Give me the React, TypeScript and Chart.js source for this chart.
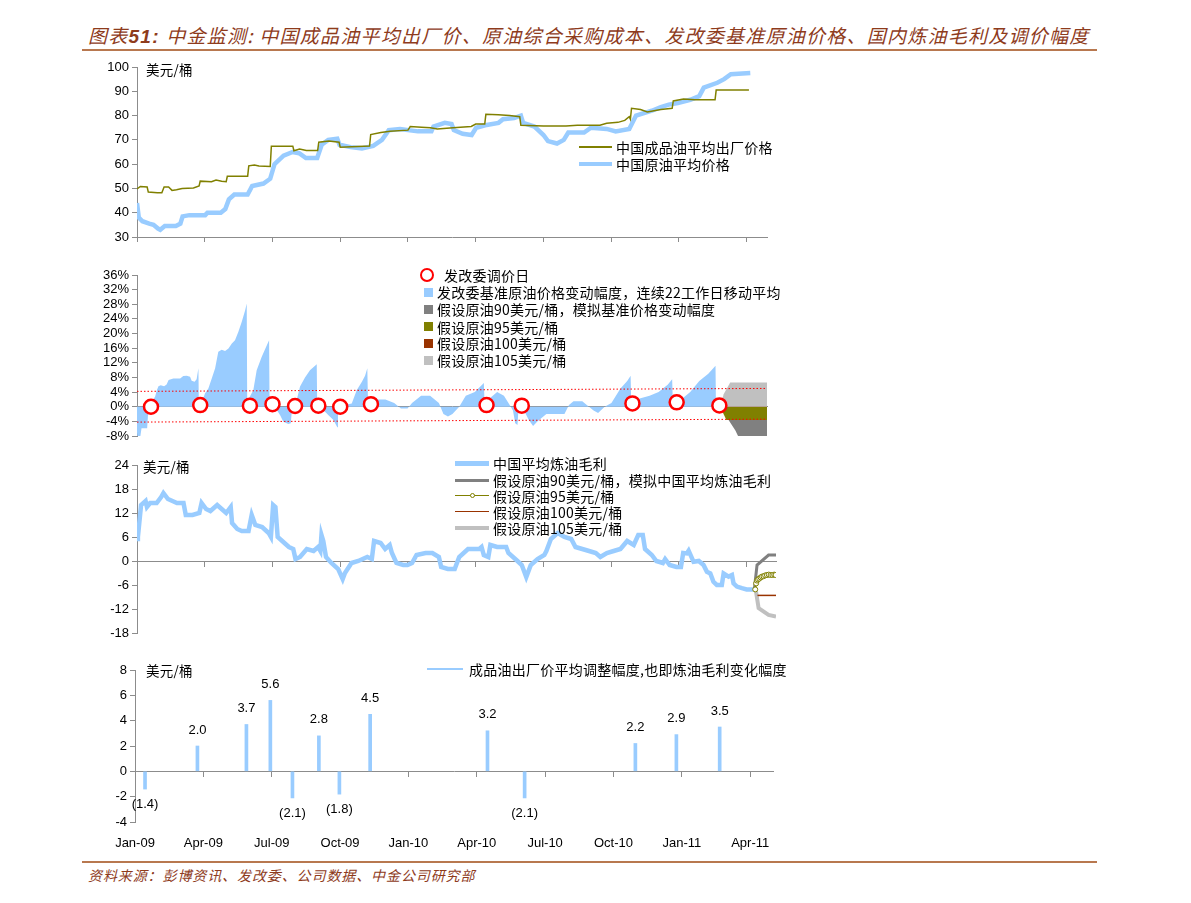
import React, { useEffect, useRef } from 'react';
import { Chart, registerables } from 'chart.js';

Chart.register(...registerables);

const CJK = '"Noto Sans CJK SC", "Noto Sans", sans-serif';
const LATIN = '"Liberation Sans", Arial, sans-serif';
const GRAY = '#8c8c8c';
const BLUE = '#99CCFF';
const OLIVE = '#808000';
const DARKGRAY = '#808080';
const LIGHTGRAY = '#C0C0C0';
const DARKRED = '#993300';
const BROWN = '#8E3B1C';

// ---------- shared x axis: months since Jan-09 ----------
const quarterTicks = [0, 3, 6, 9, 12, 15, 18, 21, 24, 27];
const quarterLabels = ['Jan-09', 'Apr-09', 'Jul-09', 'Oct-09', 'Jan-10', 'Apr-10', 'Jul-10', 'Oct-10', 'Jan-11', 'Apr-11'];

const titleText = '中金监测: 中国成品油平均出厂价、原油综合采购成本、发改委基准原油价格、国内炼油毛利及调价幅度';
const footerText = '资料来源：彭博资讯、发改委、公司数据、中金公司研究部';
const unitLabel = '美元/桶';

// ---------- Panel 1 ----------
const panel1Legend = ['中国成品油平均出厂价格', '中国原油平均价格'];
const panel1YTicks = [30, 40, 50, 60, 70, 80, 90, 100];
const productPrice: [number, number][] = [
  [0, 49.8], [0.15, 50.8], [0.45, 50.6], [0.5, 48.5], [0.9, 48.2], [1.1, 48.2], [1.2, 50.6], [1.4, 50.6],
  [1.55, 49.2], [1.75, 49.5], [2.0, 50.0], [2.5, 50.2], [2.75, 51.0], [2.8, 53.0], [3.3, 52.8], [3.5, 53.5],
  [3.75, 53.0], [3.95, 52.8], [4.0, 55.0], [4.9, 55.0], [4.95, 59.3], [5.2, 59.6], [5.4, 59.2], [5.9, 59.0],
  [5.95, 67.4], [6.9, 67.4], [6.95, 65.5], [7.2, 66.2], [7.5, 65.6], [8.0, 65.6], [8.05, 69.0], [8.5, 69.5],
  [8.95, 69.0], [9.0, 67.0], [10.3, 67.5], [10.35, 72.2], [10.8, 73.0], [11.2, 73.5], [12.0, 74.0], [12.1, 75.5],
  [12.6, 75.2], [13.0, 75.0], [13.3, 74.5], [14.0, 75.0], [14.8, 75.5], [15.0, 76.5], [15.4, 76.5], [15.45, 80.5],
  [16.0, 80.3], [16.5, 80.0], [16.95, 79.5], [17.0, 76.0], [18.0, 75.7], [19.0, 75.7], [19.5, 76.0], [20.5, 76.0],
  [20.8, 76.8], [21.3, 77.2], [21.6, 78.0], [21.8, 79.5], [21.85, 78.5], [21.9, 83.0], [22.3, 82.5], [22.6, 81.5],
  [23.2, 82.5], [23.7, 83.0], [23.75, 86.0], [24.2, 86.8], [24.7, 86.5], [25.6, 86.5], [25.65, 90.5], [27.1, 90.5],
];
const crudePrice: [number, number][] = [
  [0, 44], [0.08, 38], [0.24, 36.5], [0.54, 35.5], [0.73, 35], [0.93, 33.5], [1.03, 33], [1.23, 34.5],
  [1.72, 34.5], [1.92, 35.5], [2.02, 38.5], [2.32, 39], [3.02, 39], [3.12, 40], [3.71, 40], [3.91, 41.5],
  [4.07, 45.5], [4.31, 47.5], [4.9, 47.5], [5.1, 51], [5.6, 52], [5.9, 54], [6.09, 60], [6.49, 63.5],
  [6.89, 65], [7.18, 64.5], [7.48, 62.5], [7.98, 62.5], [8.18, 68], [8.47, 70], [8.87, 70.5], [8.97, 68],
  [9.46, 67], [9.96, 66.5], [10.46, 67.5], [10.85, 70], [11.15, 74], [11.65, 74.5], [12.44, 73.5], [13.04, 73.5],
  [13.13, 75.5], [13.63, 77], [13.93, 76.5], [14.03, 74], [14.42, 72.5], [14.82, 72], [15.02, 75], [15.42, 76],
  [16.01, 77], [16.21, 78.5], [16.7, 79], [17.0, 80], [17.1, 77], [17.6, 75.5], [18.0, 72], [18.2, 69.5],
  [18.6, 68.5], [18.9, 70], [19.1, 73], [19.8, 73], [20.1, 75], [20.8, 74.5], [21.2, 73.5], [21.8, 74.5],
  [22.1, 80], [22.8, 82], [23.2, 83.5], [23.55, 84.5], [23.95, 85.2], [24.5, 86.5], [24.9, 88], [25.1, 91.5],
  [25.7, 93.5], [26.0, 95], [26.3, 97], [27.16, 97.5],
];

// ---------- Panel 2 ----------
const panel2Legend = [
  '发改委调价日',
  '发改委基准原油价格变动幅度，连续22工作日移动平均',
  '假设原油90美元/桶，模拟基准价格变动幅度',
  '假设原油95美元/桶',
  '假设原油100美元/桶',
  '假设原油105美元/桶',
];
const panel2YTicks = [-8, -4, 0, 4, 8, 12, 16, 20, 24, 28, 32, 36];
const adjustDayMarks: [number, number][] = [
  [0.62, 0], [2.8, 0.45], [5.0, 0.3], [6.0, 0.7], [7.0, 0.2], [8.03, 0.3], [9.0, 0],
  [10.36, 0.7], [15.48, 0.45], [17.04, 0.3], [21.94, 0.9], [23.9, 1.2], [25.79, 0.35],
];
const benchChange: [number, number][] = [
  [0.0, -7.0], [0.02, -8.2], [0.15, -8.0], [0.2, -5.9], [0.45, -5.9], [0.5, -1.0], [0.6, 0.3], [0.7, 1.8],
  [0.8, 2.7], [0.88, 4.5], [0.95, 5.6], [1.05, 5.9], [1.2, 5.6], [1.31, 6.1], [1.4, 7.3], [1.61, 7.7],
  [1.91, 7.7], [2.05, 8.4], [2.2, 8.5], [2.35, 8.2], [2.42, 7.1], [2.55, 6.8], [2.64, 7.5], [2.72, 10.5],
  [2.74, 0.2], [2.85, 0.8], [3.01, 3.6], [3.16, 5.0], [3.31, 7.7], [3.46, 10.5], [3.6, 15.0], [3.75, 15.6],
  [3.9, 15.2], [4.05, 15.9], [4.2, 17.3], [4.34, 18.2], [4.49, 20.5], [4.64, 23.2], [4.79, 26.4], [4.86, 28.2],
  [4.88, 1.0], [4.93, 2.0], [5.15, 4.5], [5.3, 10.0], [5.52, 13.6], [5.75, 16.8], [5.85, 18.2], [5.87, 0.3],
  [5.97, 0.0], [6.19, -0.9], [6.34, -2.3], [6.48, -4.1], [6.7, -4.7], [6.81, -4.5], [6.86, -0.9], [7.0, 0.2],
  [7.07, 1.8], [7.22, 5.5], [7.44, 8.0], [7.66, 10.0], [7.96, 11.6], [7.98, 0.0], [8.25, -0.9], [8.48, -2.3],
  [8.7, -3.6], [8.87, -5.6], [8.9, 0.0], [9.22, 0.5], [9.51, 0.9], [9.73, 4.5], [9.96, 6.8], [10.1, 8.5],
  [10.2, 10.5], [10.23, 1.0], [10.5, 2.0], [11.0, 2.0], [11.39, 1.0], [11.69, -0.5], [11.98, -0.5], [12.18, 1.0],
  [12.58, 3.0], [12.98, 3.0], [13.37, 1.0], [13.57, -2.0], [13.77, -2.7], [13.97, -2.0], [14.27, 0.0], [14.56, 3.0],
  [14.96, 4.0], [15.36, 6.5], [15.39, 1.5], [15.56, 2.0], [15.95, 4.0], [16.25, 3.0], [16.45, 1.0], [16.65, -1.0],
  [16.75, -4.5], [16.85, -5.0], [16.9, 0.0], [17.14, -1.0], [17.34, -3.5], [17.54, -5.3], [17.74, -4.0], [18.13, -2.0],
  [18.53, -2.0], [18.93, -2.0], [19.13, 0.5], [19.33, 1.5], [19.72, 1.5], [19.92, 0.5], [20.22, -1.0], [20.42, -1.7],
  [20.71, 0.0], [21.01, 1.0], [21.41, 5.0], [21.71, 7.0], [21.86, 8.5], [21.89, 0.0], [22.1, 2.0], [22.7, 3.0],
  [23.1, 4.0], [23.5, 6.0], [23.7, 7.5], [23.73, 1.0], [24.1, 2.0], [24.5, 4.0], [24.9, 7.0], [25.3, 9.0],
  [25.62, 11.2], [25.64, 0.0],
];
const sim90Change: [number, number][] = [[25.83, 0], [26.27, -4.3], [26.5, -6.5], [26.64, -8.3], [27.9, -8.3]];
const sim95Change: [number, number][] = [[25.83, 0], [26.1, -3.6], [27.9, -3.6]];
const sim100Change: [number, number][] = [[25.83, 0], [26.1, 1.4], [27.9, 1.4]];
const sim105Change: [number, number][] = [[25.83, 0], [25.98, 3.4], [26.27, 6.6], [27.9, 6.6]];
const bandUpper: [number, number][] = [[0, 4.2], [27.9, 5.0]];
const bandLower: [number, number][] = [[0, -4.2], [27.9, -3.4]];

// ---------- Panel 3 ----------
const panel3Legend = [
  '中国平均炼油毛利',
  '假设原油90美元/桶，模拟中国平均炼油毛利',
  '假设原油95美元/桶',
  '假设原油100美元/桶',
  '假设原油105美元/桶',
];
const panel3YTicks = [-18, -12, -6, 0, 6, 12, 18, 24];
const refiningMargin: [number, number][] = [
  [0, 5.5], [0.04, 6], [0.18, 14], [0.38, 15], [0.44, 13.5], [0.58, 14.5], [0.87, 14.5], [1.07, 16], [1.17, 17],
  [1.37, 15.5], [1.57, 15], [1.77, 14.5], [2.06, 14.5], [2.16, 11.5], [2.46, 11.5], [2.76, 12], [2.86, 14.5],
  [3.06, 13], [3.25, 12.5], [3.55, 14], [3.75, 13], [3.95, 12], [4.15, 13.5], [4.21, 9.5], [4.44, 8], [4.64, 7.5],
  [4.94, 7.5], [5.08, 11.5], [5.24, 9], [5.54, 8.5], [5.83, 7], [5.93, 6], [6.03, 14], [6.13, 13.5], [6.23, 6],
  [6.43, 5], [6.73, 3.5], [6.92, 3], [7.02, 0.5], [7.22, 1], [7.52, 3], [7.82, 2.5], [8.02, 3.5], [8.12, 2.5],
  [8.17, 6.5], [8.25, 5], [8.37, 1], [8.61, -0.5], [8.91, -2], [9.11, -4.5], [9.21, -3], [9.5, -0.5], [9.8, 0],
  [10.2, 1], [10.4, 0.5], [10.5, 5], [10.79, 4.5], [10.99, 3], [11.19, 4], [11.29, 2], [11.49, -0.5], [11.79, -1],
  [11.98, -1], [12.18, -0.5], [12.38, 1.5], [12.78, 2], [13.08, 2], [13.37, 1], [13.47, -1.5], [13.77, -2],
  [14.07, -2], [14.27, 1], [14.66, 3], [15.16, 3], [15.26, 3.5], [15.36, 1.5], [15.56, 1], [15.65, 4], [15.95, 3.5],
  [16.35, 3.5], [16.45, 2], [16.85, 0], [17.04, -1], [17.24, -4], [17.44, -1], [17.74, 0.5], [18.04, 1.5],
  [18.13, 2.5], [18.33, 5.5], [18.63, 7], [18.93, 6], [19.23, 5.5], [19.42, 3.5], [19.72, 3], [20.02, 2.5],
  [20.32, 2], [20.52, 1], [20.81, 2], [21.11, 2.5], [21.41, 3], [21.71, 5], [22.0, 4], [22.2, 6.5], [22.4, 6.5],
  [22.5, 3], [22.8, 1.5], [23.0, 0], [23.29, -0.5], [23.39, 0.5], [23.59, -1], [23.89, -1.5], [24.09, -1.5],
  [24.19, 2], [24.35, 1.9], [24.43, 2.6], [24.65, -0.2], [24.88, 0], [25.09, -1], [25.24, -2.7], [25.39, -3.1],
  [25.53, -5.2], [25.68, -6], [25.9, -6], [25.98, -3.1], [26.2, -3.9], [26.35, -3.5], [26.42, -5.6], [26.57, -6.4],
  [26.79, -6.8], [27.0, -7.1], [27.34, -7.1],
];
const sim90Margin: [number, number][] = [[27.34, -7.1], [27.46, -1.0], [27.97, 1.5], [28.3, 1.5]];
const sim95Margin: [number, number][] = [
  [27.38, -7.1], [27.42, -5.6], [27.46, -4.9], [27.5, -4.6], [27.56, -4.4], [27.62, -4.1], [27.68, -3.9],
  [27.75, -3.8], [27.82, -3.6], [27.9, -3.5], [27.98, -3.4], [28.06, -3.5], [28.14, -3.5], [28.22, -3.4], [28.28, -3.5],
];
const sim100Margin: [number, number][] = [[27.48, -8.6], [28.3, -8.6]];
const sim105Margin: [number, number][] = [[27.4, -7.1], [27.53, -11.8], [27.97, -13.5], [28.3, -13.9]];

// ---------- Panel 4 ----------
const panel4Legend = '成品油出厂价平均调整幅度,也即炼油毛利变化幅度';
const panel4YTicks = [-4, -2, 0, 2, 4, 6, 8];
const adjustBarDates = [0.44, 2.74, 4.89, 5.94, 6.91, 8.07, 8.97, 10.32, 15.47, 17.1, 21.96, 23.76, 25.66];
const adjustBarValues = [-1.4, 2.0, 3.7, 5.6, -2.1, 2.8, -1.8, 4.5, 3.2, -2.1, 2.2, 2.9, 3.5];

// ---------- helpers ----------
const toPts = (a: [number, number][]) => a.map(([x, y]) => ({ x, y }));
const setTicks = (vals: number[]) => (scale: any) => {
  scale.ticks = vals.map((v) => ({ value: v }));
};
const baseOptions = {
  animation: false,
  responsive: false,
  maintainAspectRatio: false,
  events: [] as any[],
  plugins: { legend: { display: false }, tooltip: { enabled: false } },
};
function yAxis(min: number, max: number, ticks: number[], width: number, suffix = '') {
  return {
    min,
    max,
    afterBuildTicks: setTicks(ticks),
    ticks: {
      color: '#000',
      font: { family: LATIN, size: 13 },
      padding: 3,
      autoSkip: false,
      callback: (v: any) => `${v}${suffix}`,
    },
    grid: { display: true, drawOnChartArea: false, drawTicks: true, tickLength: 5, color: GRAY },
    border: { display: true, color: GRAY },
    afterFit: (s: any) => {
      s.width = width;
    },
  };
}
function xAxis(max: number, extra: any) {
  return {
    type: 'linear',
    min: 0,
    max,
    offset: false,
    afterBuildTicks: setTicks(quarterTicks),
    ticks: { display: false, autoSkip: false },
    grid: { display: true, drawOnChartArea: false, drawTicks: true, tickLength: 5, color: GRAY, offset: false },
    border: { display: true, color: GRAY },
    ...extra,
  };
}

const W = 1191;

const makePanel1 = () => ({
  type: 'line',
  data: {
    datasets: [
      { label: panel1Legend[0], data: toPts(productPrice), borderColor: OLIVE, borderWidth: 1.5, pointRadius: 0, tension: 0 },
      { label: panel1Legend[1], data: toPts(crudePrice), borderColor: BLUE, borderWidth: 4.5, pointRadius: 0, tension: 0 },
    ],
  },
  options: {
    ...baseOptions,
    layout: { padding: { top: 12, right: W - 767, bottom: 0, left: 0 } },
    scales: {
      x: xAxis(27.9, { afterFit: (s: any) => { s.height = 18; } }),
      y: yAxis(30, 100, panel1YTicks, 137),
    },
  },
});

const makePanel2 = () => ({
  type: 'line',
  data: {
    datasets: [
      {
        label: panel2Legend[0], data: toPts(adjustDayMarks), showLine: false, pointRadius: 7, pointBorderWidth: 2.5,
        pointBorderColor: '#FF0000', pointBackgroundColor: '#FFFFFF',
      },
      { label: 'band+', data: toPts(bandUpper), borderColor: '#FF0000', borderWidth: 1, borderDash: [1.5, 2], pointRadius: 0 },
      { label: 'band-', data: toPts(bandLower), borderColor: '#FF0000', borderWidth: 1, borderDash: [1.5, 2], pointRadius: 0 },
      { label: panel2Legend[1], data: toPts(benchChange), borderWidth: 0, pointRadius: 0, fill: 'origin', backgroundColor: BLUE },
      { label: panel2Legend[5], data: toPts(sim105Change), borderWidth: 0, pointRadius: 0, fill: 'origin', backgroundColor: LIGHTGRAY },
      { label: panel2Legend[4], data: toPts(sim100Change), borderWidth: 0, pointRadius: 0, fill: 'origin', backgroundColor: DARKRED },
      { label: panel2Legend[3], data: toPts(sim95Change), borderWidth: 0, pointRadius: 0, fill: 'origin', backgroundColor: OLIVE },
      { label: panel2Legend[2], data: toPts(sim90Change), borderWidth: 0, pointRadius: 0, fill: 'origin', backgroundColor: DARKGRAY },
    ],
  },
  options: {
    ...baseOptions,
    layout: { padding: { top: 17, right: W - 767, bottom: 22, left: 0 } },
    scales: {
      x: xAxis(27.9, { position: { y: 0 }, grid: { display: false } }),
      y: yAxis(-8, 36, panel2YTicks, 137, '%'),
    },
  },
});

const makePanel3 = () => ({
  type: 'line',
  data: {
    datasets: [
      {
        label: panel3Legend[2], data: toPts(sim95Margin), borderColor: OLIVE, borderWidth: 1.5, pointRadius: 2.5,
        pointBorderWidth: 1, pointBorderColor: OLIVE, pointBackgroundColor: '#FFFFFF',
      },
      { label: panel3Legend[3], data: toPts(sim100Margin), borderColor: DARKRED, borderWidth: 1.5, pointRadius: 0 },
      { label: panel3Legend[1], data: toPts(sim90Margin), borderColor: DARKGRAY, borderWidth: 3, pointRadius: 0 },
      { label: panel3Legend[4], data: toPts(sim105Margin), borderColor: LIGHTGRAY, borderWidth: 4, pointRadius: 0 },
      { label: panel3Legend[0], data: toPts(refiningMargin), borderColor: BLUE, borderWidth: 4.5, pointRadius: 0 },
    ],
  },
  options: {
    ...baseOptions,
    layout: { padding: { top: 15, right: W - 776, bottom: 17, left: 0 } },
    scales: {
      x: xAxis(28.3, { position: { y: 0 } }),
      y: yAxis(-18, 24, panel3YTicks, 137),
    },
  },
});

const barLabelPlugin = {
  id: 'barLabels',
  afterDatasetsDraw(chart: any) {
    const meta = chart.getDatasetMeta(0);
    const ctx = chart.ctx;
    ctx.save();
    ctx.font = `13px ${LATIN}`;
    ctx.fillStyle = '#000';
    ctx.textAlign = 'center';
    ctx.textBaseline = 'middle';
    meta.data.forEach((el: any, i: number) => {
      const v = adjustBarValues[i];
      const txt = v >= 0 ? v.toFixed(1) : `(${Math.abs(v).toFixed(1)})`;
      ctx.fillText(txt, el.x, v >= 0 ? el.y - 16 : el.y + 15);
    });
    ctx.restore();
  },
};

const makePanel4 = () => ({
  type: 'bar',
  data: {
    datasets: [
      {
        label: panel4Legend,
        data: adjustBarDates.map((x, i) => ({ x, y: adjustBarValues[i] })),
        backgroundColor: BLUE,
        borderWidth: 0,
        barThickness: 3,
        xAxisID: 'x',
        yAxisID: 'y',
      },
    ],
  },
  plugins: [barLabelPlugin],
  options: {
    ...baseOptions,
    layout: { padding: { top: 15, right: W - 773, bottom: 0, left: 0 } },
    scales: {
      x: xAxis(28, { position: { y: 0 } }),
      xl: {
        type: 'linear',
        position: 'bottom',
        min: 0,
        max: 28,
        offset: false,
        afterBuildTicks: setTicks(quarterTicks),
        ticks: {
          color: '#000',
          font: { family: LATIN, size: 13 },
          padding: 14,
          autoSkip: false,
          maxRotation: 0,
          callback: (v: any) => quarterLabels[quarterTicks.indexOf(v)] ?? '',
        },
        grid: { display: false, drawTicks: false },
        border: { display: false },
        afterFit: (s: any) => {
          s.height = 40;
        },
      },
      y: yAxis(-4, 8, panel4YTicks, 135),
    },
  },
});

function ChartPanel({ top, height, make }: { top: number; height: number; make: () => any }) {
  const ref = useRef<HTMLCanvasElement>(null);
  useEffect(() => {
    const chart = new Chart(ref.current as HTMLCanvasElement, make());
    return () => chart.destroy();
  }, []);
  return (
    <canvas
      ref={ref}
      width={W}
      height={height}
      style={{ position: 'absolute', left: 0, top, width: W, height }}
    />
  );
}

function Txt({ x, y, children, size = 14, spacing = 0.25 }: any) {
  return (
    <div
      style={{
        position: 'absolute', left: x, top: y - 10, height: 20, lineHeight: '20px', fontSize: size,
        fontFamily: CJK, whiteSpace: 'nowrap', letterSpacing: spacing, color: '#000',
      }}
    >
      {children}
    </div>
  );
}
function HLine({ x1, x2, y, color, w }: any) {
  return <div style={{ position: 'absolute', left: x1, top: y - w / 2, width: x2 - x1, height: w, background: color }} />;
}
function Square({ x, y, color, s = 9 }: any) {
  return <div style={{ position: 'absolute', left: x, top: y - s / 2, width: s, height: s, background: color }} />;
}
function Ring({ cx, cy, r, color, bw, bg = '#fff' }: any) {
  return (
    <div
      style={{
        position: 'absolute', left: cx - r, top: cy - r, width: 2 * r, height: 2 * r, boxSizing: 'border-box',
        border: `${bw}px solid ${color}`, borderRadius: '50%', background: bg,
      }}
    />
  );
}

export default function App() {
  const p2Rows = [275, 292.3, 309.3, 326.5, 343.3, 360];
  const p2Colors = [BLUE, DARKGRAY, OLIVE, DARKRED, LIGHTGRAY];
  const p3Rows = [463.3, 480, 495.5, 511.5, 527.5];
  return (
    <div style={{ position: 'absolute', left: 0, top: 0, width: W, height: 903, background: '#fff', overflow: 'hidden' }}>
      {/* title */}
      <div
        style={{
          position: 'absolute', left: 88, top: 24, height: 22, lineHeight: '22px', fontSize: 19, fontStyle: 'italic',
          fontFamily: CJK, color: BROWN, whiteSpace: 'nowrap', letterSpacing: 1.25,
        }}
      >
        图表<span style={{ fontFamily: LATIN, fontWeight: 'bold' }}>51: </span>
        {titleText}
      </div>
      <HLine x1={82} x2={1097} y={49.5} color="#B8784F" w={2} />

      <ChartPanel top={55} height={200} make={makePanel1} />
      <ChartPanel top={258} height={200} make={makePanel2} />
      <ChartPanel top={450} height={200} make={makePanel3} />
      <ChartPanel top={655} height={207} make={makePanel4} />

      {/* panel 1 annotations */}
      <Txt x={146} y={69} size={13.5}>{unitLabel}</Txt>
      <HLine x1={579} x2={612} y={147} color={OLIVE} w={1.5} />
      <Txt x={616} y={147}>{panel1Legend[0]}</Txt>
      <HLine x1={579} x2={612} y={164} color={BLUE} w={4.5} />
      <Txt x={616} y={164}>{panel1Legend[1]}</Txt>

      {/* panel 2 legend */}
      <Ring cx={427} cy={p2Rows[0]} r={7} color="#FF0000" bw={2.5} />
      <Txt x={444} y={p2Rows[0]}>{panel2Legend[0]}</Txt>
      {p2Colors.map((c, i) => (
        <React.Fragment key={i}>
          <Square x={423.5} y={p2Rows[i + 1]} color={c} />
          <Txt x={437} y={p2Rows[i + 1]}>{panel2Legend[i + 1]}</Txt>
        </React.Fragment>
      ))}

      {/* panel 3 annotations */}
      <Txt x={143} y={466} size={13.5}>{unitLabel}</Txt>
      <HLine x1={455} x2={489} y={p3Rows[0]} color={BLUE} w={4.5} />
      <HLine x1={455} x2={489} y={p3Rows[1]} color={DARKGRAY} w={3} />
      <HLine x1={455} x2={489} y={p3Rows[2]} color={OLIVE} w={1.5} />
      <Ring cx={472} cy={p3Rows[2]} r={2.5} color={OLIVE} bw={1} />
      <HLine x1={455} x2={489} y={p3Rows[3]} color={DARKRED} w={1.5} />
      <HLine x1={455} x2={489} y={p3Rows[4]} color={LIGHTGRAY} w={4} />
      {panel3Legend.map((t, i) => (
        <Txt key={i} x={493} y={p3Rows[i]}>{t}</Txt>
      ))}

      {/* panel 4 annotations */}
      <Txt x={146} y={670} size={13.5}>{unitLabel}</Txt>
      <HLine x1={427} x2={463} y={669} color={BLUE} w={1.5} />
      <Txt x={469} y={669}>{panel4Legend}</Txt>

      {/* footer */}
      <HLine x1={82} x2={1097} y={862} color="#B8784F" w={2} />
      <div
        style={{
          position: 'absolute', left: 88, top: 865, height: 20, lineHeight: '20px', fontSize: 14, fontStyle: 'italic',
          fontFamily: CJK, color: BROWN, whiteSpace: 'nowrap', letterSpacing: 0.9,
        }}
      >
        {footerText}
      </div>
    </div>
  );
}
